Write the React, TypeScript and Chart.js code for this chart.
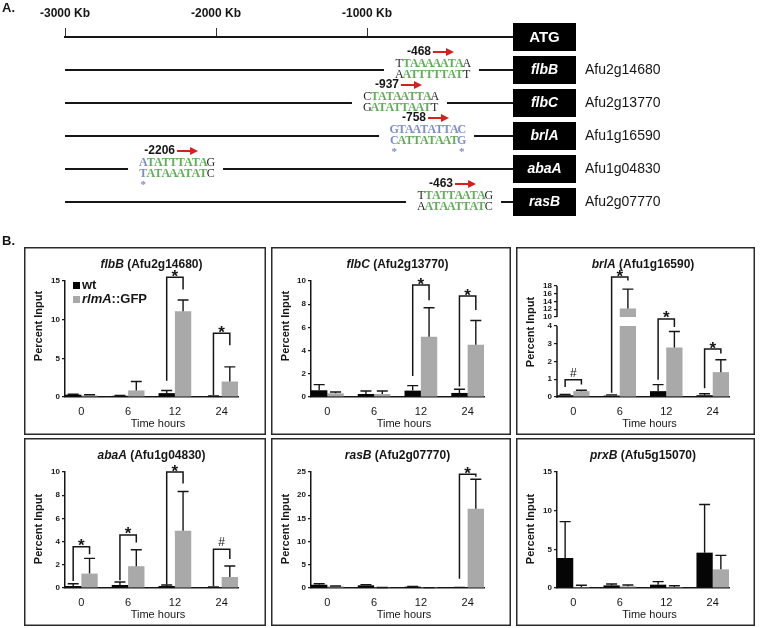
import React, { useEffect, useRef } from 'react';
import { Chart, registerables } from 'chart.js';

Chart.register(...registerables);

const SANS = '"Liberation Sans", Arial, Helvetica, sans-serif';
const SERIF = '"Liberation Serif", "DejaVu Serif", "Times New Roman", serif';
const INK = '#161616';
const GREEN = '#62ad5a';
const BLUE = '#7d8ec8';
const RED = '#d6201f';
const BAR_WT = '#050505';
const BAR_GFP = '#a9a9a9';

/* ---------------- Panel A data ---------------- */
const kbTicks = [-3000, -2000, -1000];
const rowNames = ['ATG', 'flbB', 'flbC', 'brlA', 'abaA', 'rasB'];
const rowLoci = ['', 'Afu2g14680', 'Afu2g13770', 'Afu1g16590', 'Afu1g04830', 'Afu2g07770'];
const siteLabels = ['-468', '-937', '-758', '-2206', '-463'];
const siteAxisPos = [-563, -775, -596, -2258, -417];
const siteSeqTop = ['TTAAAAATAA', 'CTATAATTAA', 'GTAATATTAC', 'ATATTTATAG', 'TTATTAATAG'];
const siteSeqBottom = ['AATTTTTATT', 'GATATTAATT', 'CATTATAATG', 'TATAAATATC', 'AATAATTATC'];
const siteColTop = ['kggggggggk', 'kggggggggk', 'bbbbbbbbbb', 'bggggggggk', 'kggggggggk'];
const siteColBottom = ['kggggggggk', 'kggggggggk', 'bggggggggb', 'bggggggggk', 'kggggggggk'];
const siteStars: number[][] = [[], [], [0, 9], [0], []];

/* ---------------- Panel B data ---------------- */
const timeLabels = ['0', '6', '12', '24'];

const flbBWt = [0.3, 0.15, 0.5, 0.1];
const flbBWtErr = [0.05, 0.05, 0.35, 0.05];
const flbBGfp = [0.2, 0.85, 11.1, 2.0];
const flbBGfpErr = [0.1, 1.15, 1.45, 1.9];
const flbBTicks = [0, 5, 10, 15];
const flbBSig = [
  { at: 2, top: 15.5, left: 2.1, right: 13.9, mark: '*' },
  { at: 3, top: 8.25, left: 0.25, right: 6.7, mark: '*' },
];

const flbCWt = [0.58, 0.26, 0.55, 0.35];
const flbCWtErr = [0.49, 0.26, 0.43, 0.32];
const flbCGfp = [0.32, 0.26, 5.2, 4.5];
const flbCGfpErr = [0.11, 0.26, 2.5, 2.1];
const flbCTicks = [0, 2, 4, 6, 8, 10];
const flbCSig = [
  { at: 2, top: 9.65, left: 1.8, right: 8.35, mark: '*' },
  { at: 3, top: 8.7, left: 0.9, right: 7.5, mark: '*' },
];

const brlAWt = [0.1, 0.08, 0.33, 0.1];
const brlAWtErr = [0.05, 0.04, 0.37, 0.08];
const brlAGfp = [0.33, 12.2, 2.79, 1.4];
const brlAGfpErr = [0.05, 5.0, 0.9, 0.7];
const brlATicks = [0, 1, 2, 3, 4];
const brlAUpperTicks = [10, 12, 14, 16, 18];
const brlASig = [
  { at: 0, top: 0.97, left: 0.57, right: 0.7, mark: '#' },
  { at: 1, top: 20.3, left: 0.24, right: 19.4, mark: '*' },
  { at: 2, top: 4.4, left: 0.97, right: 3.95, mark: '*' },
  { at: 3, top: 2.7, left: 0.5, right: 2.45, mark: '*' },
];

const abaAWt = [0.17, 0.26, 0.17, 0.07];
const abaAWtErr = [0.2, 0.26, 0.09, 0.03];
const abaAGfp = [1.24, 1.88, 4.94, 0.95];
const abaAGfpErr = [1.31, 1.42, 3.38, 0.95];
const abaATicks = [0, 2, 4, 6, 8, 10];
const abaASig = [
  { at: 0, top: 3.55, left: 0.6, right: 2.9, mark: '*' },
  { at: 1, top: 4.57, left: 0.66, right: 3.93, mark: '*' },
  { at: 2, top: 10.0, left: 0.3, right: 9.0, mark: '*' },
  { at: 3, top: 3.35, left: 0.17, right: 2.5, mark: '#' },
];

const rasBWt = [0.7, 0.58, 0.29, 0.1];
const rasBWtErr = [0.23, 0.14, 0.07, 0.03];
const rasBGfp = [0.36, 0.07, 0.05, 17.1];
const rasBGfpErr = [0.07, 0.03, 0.03, 6.35];
const rasBTicks = [0, 5, 10, 15, 20, 25];
const rasBSig = [{ at: 3, top: 24.5, left: 2.0, right: 24.0, mark: '*' }];

const prxBWt = [3.88, 0.34, 0.43, 4.57];
const prxBWtErr = [4.7, 0.18, 0.39, 6.23];
const prxBGfp = [0.13, 0.22, 0.13, 2.41];
const prxBGfpErr = [0.22, 0.17, 0.17, 1.81];
const prxBTicks = [0, 5, 10, 15];

interface Sig { at: number; top: number; left: number; right: number; mark: string }
interface SubSpec {
  gene: string; locus: string;
  wt: number[]; wtErr: number[]; gfp: number[]; gfpErr: number[];
  yTicks: number[]; upperTicks: number[]; sig: Sig[]; legend: boolean;
}

const SUBS: SubSpec[] = [
  { gene: 'flbB', locus: 'Afu2g14680', wt: flbBWt, wtErr: flbBWtErr, gfp: flbBGfp, gfpErr: flbBGfpErr, yTicks: flbBTicks, upperTicks: [], sig: flbBSig, legend: true },
  { gene: 'flbC', locus: 'Afu2g13770', wt: flbCWt, wtErr: flbCWtErr, gfp: flbCGfp, gfpErr: flbCGfpErr, yTicks: flbCTicks, upperTicks: [], sig: flbCSig, legend: false },
  { gene: 'brlA', locus: 'Afu1g16590', wt: brlAWt, wtErr: brlAWtErr, gfp: brlAGfp, gfpErr: brlAGfpErr, yTicks: brlATicks, upperTicks: brlAUpperTicks, sig: brlASig, legend: false },
  { gene: 'abaA', locus: 'Afu1g04830', wt: abaAWt, wtErr: abaAWtErr, gfp: abaAGfp, gfpErr: abaAGfpErr, yTicks: abaATicks, upperTicks: [], sig: abaASig, legend: false },
  { gene: 'rasB', locus: 'Afu2g07770', wt: rasBWt, wtErr: rasBWtErr, gfp: rasBGfp, gfpErr: rasBGfpErr, yTicks: rasBTicks, upperTicks: [], sig: rasBSig, legend: false },
  { gene: 'prxB', locus: 'Afu5g15070', wt: prxBWt, wtErr: prxBWtErr, gfp: prxBGfp, gfpErr: prxBGfpErr, yTicks: prxBTicks, upperTicks: [], sig: [], legend: false },
];

interface Geo { x: number; y: number; w: number; h: number; left: number; right: number; top: number; yTitle: number }
const GEO: Geo[] = [
  { x: 24, y: 247, w: 242, h: 188, left: 41, right: 28, top: 34, yTitle: 79 },
  { x: 271, y: 247, w: 240, h: 188, left: 40, right: 27, top: 34, yTitle: 79 },
  { x: 516, y: 247, w: 239, h: 188, left: 41, right: 26, top: 39, yTitle: 85 },
  { x: 24, y: 438, w: 242, h: 188, left: 41, right: 28, top: 34, yTitle: 91 },
  { x: 271, y: 438, w: 240, h: 188, left: 40, right: 27, top: 34, yTitle: 91 },
  { x: 516, y: 438, w: 239, h: 188, left: 41, right: 26, top: 34, yTitle: 91 },
];
const X_AXIS_H = 38;
const LOWER_WEIGHT = 71;
const UPPER_WEIGHT = 40;
const UPPER_SPAN_PX = 31;

/* ---------------- Panel A chart ---------------- */
function drawSeq(ctx: CanvasRenderingContext2D, seq: string, cols: string, cx: number, y: number) {
  ctx.textAlign = 'center';
  ctx.textBaseline = 'middle';
  for (let k = 0; k < seq.length; k++) {
    const c = cols[k];
    ctx.fillStyle = c === 'g' ? GREEN : c === 'b' ? BLUE : '#262626';
    ctx.font = c === 'k' ? `12px ${SERIF}` : `bold 12px ${SERIF}`;
    ctx.fillText(seq[k], cx + (k - 4.5) * 7.5, y);
  }
}

const panelAPlugin = {
  id: 'panelA',
  afterDraw(chart: any) {
    const { ctx, chartArea: ca } = chart;
    const xs = chart.scales.x;
    const ys = chart.scales.y;
    ctx.save();
    ctx.fillStyle = INK;
    ctx.textBaseline = 'middle';
    ctx.textAlign = 'left';
    ctx.font = `bold 13px ${SANS}`;
    ctx.fillText('A.', 2, 8);
    ctx.fillText('B.', 2, 241);
    const boxL = ca.right - 5;
    const boxW = 63;
    const boxH = 28;
    rowNames.forEach((name, r) => {
      const y = ys.getPixelForValue(r);
      if (r > 0) {
        const s = r - 1;
        const cx = xs.getPixelForValue(siteAxisPos[s]);
        ctx.strokeStyle = INK;
        ctx.lineWidth = 2;
        ctx.beginPath();
        ctx.moveTo(ca.left, y);
        ctx.lineTo(cx - 49, y);
        ctx.moveTo(cx + 46, y);
        ctx.lineTo(boxL, y);
        ctx.stroke();
        drawSeq(ctx, siteSeqTop[s], siteColTop[s], cx, y - 6);
        drawSeq(ctx, siteSeqBottom[s], siteColBottom[s], cx, y + 4.5);
        ctx.fillStyle = BLUE;
        ctx.font = `bold 11px ${SERIF}`;
        siteStars[s].forEach((k) => ctx.fillText('*', cx + (k - 4.5) * 7.5, y + 16));
        const ly = y - 18;
        ctx.fillStyle = INK;
        ctx.font = `bold 12px ${SANS}`;
        ctx.textAlign = 'right';
        ctx.fillText(siteLabels[s], cx - 2, ly);
        ctx.strokeStyle = RED;
        ctx.fillStyle = RED;
        ctx.lineWidth = 2;
        ctx.beginPath();
        ctx.moveTo(cx, ly);
        ctx.lineTo(cx + 15, ly);
        ctx.stroke();
        ctx.beginPath();
        ctx.moveTo(cx + 21, ly);
        ctx.lineTo(cx + 13, ly - 4);
        ctx.lineTo(cx + 13, ly + 4);
        ctx.closePath();
        ctx.fill();
      }
      ctx.fillStyle = '#000';
      ctx.fillRect(boxL, y - 14, boxW, boxH);
      ctx.fillStyle = '#fff';
      ctx.textAlign = 'center';
      ctx.textBaseline = 'middle';
      ctx.font = r === 0 ? `bold 15px ${SANS}` : `italic bold 14px ${SANS}`;
      ctx.fillText(name, boxL + boxW / 2, y + 0.5);
      if (rowLoci[r]) {
        ctx.fillStyle = INK;
        ctx.textAlign = 'left';
        ctx.font = `14px ${SANS}`;
        ctx.fillText(rowLoci[r], boxL + boxW + 9, y + 0.5);
      }
    });
    ctx.restore();
  },
};

function makePanelA(): any {
  return {
    type: 'scatter',
    data: {
      datasets: [
        { label: 'sites', data: siteAxisPos.map((x, i) => ({ x, y: i + 1 })), pointRadius: 0 },
      ],
    },
    options: {
      responsive: false,
      animation: false,
      devicePixelRatio: 1,
      layout: { padding: { left: 65, right: 760 - 518, top: 0, bottom: 45 } },
      plugins: { legend: { display: false }, tooltip: { enabled: false } },
      scales: {
        x: {
          type: 'linear',
          position: 'top',
          min: -3000,
          max: 0,
          offset: false,
          afterBuildTicks: (sc: any) => { sc.ticks = kbTicks.map((v) => ({ value: v })); },
          afterFit: (sc: any) => { sc.height = 37; },
          ticks: {
            callback: (v: any) => `${v} Kb`,
            font: { family: SANS, size: 12, weight: 'bold' },
            color: INK,
            padding: 7,
            maxRotation: 0,
            autoSkip: false,
          },
          grid: { drawOnChartArea: false, tickLength: 9, color: '#333', lineWidth: 1 },
          border: { display: true, color: INK, width: 2 },
        },
        y: { type: 'linear', min: 0, max: 5, reverse: true, display: false },
      },
    },
    plugins: [panelAPlugin],
  };
}

/* ---------------- Panel B charts ---------------- */
function subPlugin(s: SubSpec, g: Geo) {
  return {
    id: 'subDecor',
    afterDraw(chart: any) {
      const { ctx, chartArea: ca } = chart;
      const y = chart.scales.y;
      const yU = chart.scales.yUp;
      const split = s.upperTicks.length ? s.upperTicks[0] : Infinity;
      const vpx = (v: number) => (yU && v >= split ? yU.getPixelForValue(v) : y.getPixelForValue(v));
      ctx.save();
      // frame
      ctx.strokeStyle = '#2a2a2a';
      ctx.lineWidth = 1.5;
      ctx.strokeRect(0.75, 0.75, g.w - 1.5, g.h - 1.5);
      ctx.strokeStyle = INK;
      // broken axis lines
      if (yU) {
        ctx.lineWidth = 1.5;
        ctx.beginPath();
        ctx.moveTo(ca.left, y.getPixelForValue(0) + 0.75);
        ctx.lineTo(ca.left, y.getPixelForValue(s.yTicks[s.yTicks.length - 1]));
        ctx.moveTo(ca.left, yU.getPixelForValue(s.upperTicks[0]));
        ctx.lineTo(ca.left, yU.getPixelForValue(s.upperTicks[s.upperTicks.length - 1]));
        ctx.stroke();
      }
      // error bars
      ctx.lineWidth = 1.4;
      chart.data.datasets.forEach((ds: any, d: number) => {
        const meta = chart.getDatasetMeta(d);
        const sc = chart.scales[meta.yAxisID];
        meta.data.forEach((el: any, i: number) => {
          const e = ds.errors ? ds.errors[i] : null;
          if (e == null) return;
          const p = meta.controller.getParsed(i);
          if (!p || p.y == null || isNaN(p.y)) return;
          const top = sc.getPixelForValue(p.y + e);
          ctx.beginPath();
          ctx.moveTo(el.x, el.y);
          ctx.lineTo(el.x, top);
          ctx.moveTo(el.x - 5.5, top);
          ctx.lineTo(el.x + 5.5, top);
          ctx.stroke();
        });
      });
      // significance brackets
      const m0 = chart.getDatasetMeta(0);
      const m1 = chart.getDatasetMeta(1);
      s.sig.forEach((b) => {
        const xl = m0.data[b.at].x;
        const xr = m1.data[b.at].x;
        const yt = vpx(b.top);
        ctx.lineWidth = 1.5;
        ctx.strokeStyle = INK;
        ctx.beginPath();
        ctx.moveTo(xl, vpx(b.left));
        ctx.lineTo(xl, yt);
        ctx.lineTo(xr, yt);
        ctx.lineTo(xr, vpx(b.right));
        ctx.stroke();
        ctx.fillStyle = INK;
        ctx.textAlign = 'center';
        ctx.textBaseline = 'alphabetic';
        if (b.mark === '*') {
          ctx.font = `bold 17px ${SANS}`;
          ctx.fillText('*', (xl + xr) / 2, yt + 4.5);
        } else {
          ctx.font = `12px ${SANS}`;
          ctx.fillText(b.mark, (xl + xr) / 2, yt - 3);
        }
      });
      // title
      ctx.textBaseline = 'middle';
      ctx.fillStyle = INK;
      const fItal = `italic bold 12px ${SANS}`;
      const fBold = `bold 12px ${SANS}`;
      ctx.font = fItal;
      const w1 = ctx.measureText(s.gene).width;
      ctx.font = fBold;
      const rest = ` (${s.locus})`;
      const w2 = ctx.measureText(rest).width;
      const tx = (ca.left + ca.right) / 2 - (w1 + w2) / 2;
      ctx.textAlign = 'left';
      ctx.font = fItal;
      ctx.fillText(s.gene, tx, 17.5);
      ctx.font = fBold;
      ctx.fillText(rest, tx + w1, 17.5);
      // axis titles
      ctx.textAlign = 'center';
      ctx.font = `11px ${SANS}`;
      ctx.fillText('Time hours', (ca.left + ca.right) / 2 + 6.5, 177);
      ctx.save();
      ctx.translate(15, g.yTitle);
      ctx.rotate(-Math.PI / 2);
      ctx.font = `bold 11px ${SANS}`;
      ctx.fillText('Percent Input', 0, 0);
      ctx.restore();
      // legend
      if (s.legend) {
        const names = [chart.data.datasets[0], chart.data.datasets[1]];
        names.forEach((ds: any, k: number) => {
          const ly = 38.5 + k * 14;
          ctx.fillStyle = ds.backgroundColor;
          ctx.fillRect(49, ly - 3.5, 7, 7);
          ctx.fillStyle = INK;
          ctx.textAlign = 'left';
          if (k === 0) {
            ctx.font = `bold 13px ${SANS}`;
            ctx.fillText(ds.label, 58, ly);
          } else {
            const [ital, tail] = ds.label.split('::');
            ctx.font = `italic bold 13px ${SANS}`;
            ctx.fillText(ital, 58, ly);
            const wi = ctx.measureText(ital).width;
            ctx.font = `bold 13px ${SANS}`;
            ctx.fillText('::' + tail, 58 + wi, ly);
          }
        });
      }
      ctx.restore();
    },
  };
}

function makeSub(s: SubSpec, g: Geo): any {
  const broken = s.upperTicks.length > 0;
  const lowMax = s.yTicks[s.yTicks.length - 1];
  const datasets: any[] = [
    {
      label: 'wt',
      data: s.wt.map((v, i) => ({ x: i, y: v })),
      backgroundColor: BAR_WT,
      stack: 'wt',
      yAxisID: 'y',
      errors: s.wtErr,
    },
    {
      label: 'rlmA::GFP',
      data: s.gfp.map((v, i) => ({ x: i, y: broken ? Math.min(v, lowMax) : v })),
      backgroundColor: BAR_GFP,
      stack: 'gfp',
      yAxisID: 'y',
      errors: s.gfpErr.map((e, i) => (broken && s.gfp[i] > lowMax ? null : e)),
    },
  ];
  if (broken) {
    datasets.push({
      label: 'rlmA::GFP upper',
      data: s.gfp.map((v, i) => ({ x: i, y: v > lowMax ? [s.upperTicks[0], v] : null })),
      backgroundColor: BAR_GFP,
      stack: 'gfp',
      yAxisID: 'yUp',
      errors: s.gfpErr.map((e, i) => (s.gfp[i] > lowMax ? e : null)),
    });
  }
  const yAxis = (ticks: number[], min: number, max: number) => ({
    type: 'linear',
    position: 'left',
    min,
    max,
    afterBuildTicks: (sc: any) => { sc.ticks = ticks.map((v) => ({ value: v })); },
    afterFit: (sc: any) => { sc.width = g.left; },
    ticks: { font: { family: SANS, size: 8, weight: 'bold' }, color: INK, padding: 2, autoSkip: false },
    grid: { drawOnChartArea: false, tickLength: 3, color: INK, lineWidth: 1.2 },
    border: { display: !broken, color: INK, width: 1.5 },
  });
  const scales: any = {
    x: {
      type: 'linear',
      min: -0.35,
      max: 3.35,
      offset: false,
      afterBuildTicks: (sc: any) => { sc.ticks = timeLabels.map((_, i) => ({ value: i })); },
      afterFit: (sc: any) => { sc.height = X_AXIS_H; },
      ticks: {
        callback: (v: any) => timeLabels[v],
        font: { family: SANS, size: 11 },
        color: INK,
        padding: 8,
        maxRotation: 0,
        autoSkip: false,
      },
      grid: { display: false, drawTicks: false, offset: false },
      border: { display: true, color: INK, width: 1.5 },
    },
    y: yAxis(s.yTicks, 0, lowMax),
  };
  if (broken) {
    const upMax = s.upperTicks[s.upperTicks.length - 1];
    const upMin = upMax - ((upMax - s.upperTicks[0]) * UPPER_WEIGHT) / UPPER_SPAN_PX;
    scales.y.stack = 'brk';
    scales.y.stackWeight = LOWER_WEIGHT;
    scales.yUp = { ...yAxis(s.upperTicks, upMin, upMax), stack: 'brk', stackWeight: UPPER_WEIGHT, weight: 1 };
  }
  return {
    type: 'bar',
    data: { datasets },
    options: {
      responsive: false,
      animation: false,
      devicePixelRatio: 1,
      layout: { padding: { left: 0, right: g.right, top: g.top, bottom: 0 } },
      datasets: { bar: { categoryPercentage: 0.7, barPercentage: 1.0, borderWidth: 0 } },
      plugins: { legend: { display: false }, tooltip: { enabled: false } },
      scales,
    },
    plugins: [subPlugin(s, g)],
  };
}

export default function App() {
  const aRef = useRef<HTMLCanvasElement>(null);
  const r0 = useRef<HTMLCanvasElement>(null);
  const r1 = useRef<HTMLCanvasElement>(null);
  const r2 = useRef<HTMLCanvasElement>(null);
  const r3 = useRef<HTMLCanvasElement>(null);
  const r4 = useRef<HTMLCanvasElement>(null);
  const r5 = useRef<HTMLCanvasElement>(null);
  const refs = [r0, r1, r2, r3, r4, r5];

  useEffect(() => {
    const charts: Chart[] = [];
    if (aRef.current) charts.push(new Chart(aRef.current, makePanelA()));
    SUBS.forEach((s, k) => {
      const c = refs[k].current;
      if (c) charts.push(new Chart(c, makeSub(s, GEO[k])));
    });
    return () => charts.forEach((c) => c.destroy());
  }, []);

  return (
    <div style={{ position: 'absolute', left: 0, top: 0, width: 760, height: 628, background: '#fff', overflow: 'hidden' }}>
      <canvas ref={aRef} width={760} height={247} style={{ position: 'absolute', left: 0, top: 0 }} />
      {GEO.map((g, k) => (
        <canvas
          key={k}
          ref={refs[k]}
          width={g.w}
          height={g.h}
          style={{ position: 'absolute', left: g.x, top: g.y, width: g.w, height: g.h }}
        />
      ))}
    </div>
  );
}
